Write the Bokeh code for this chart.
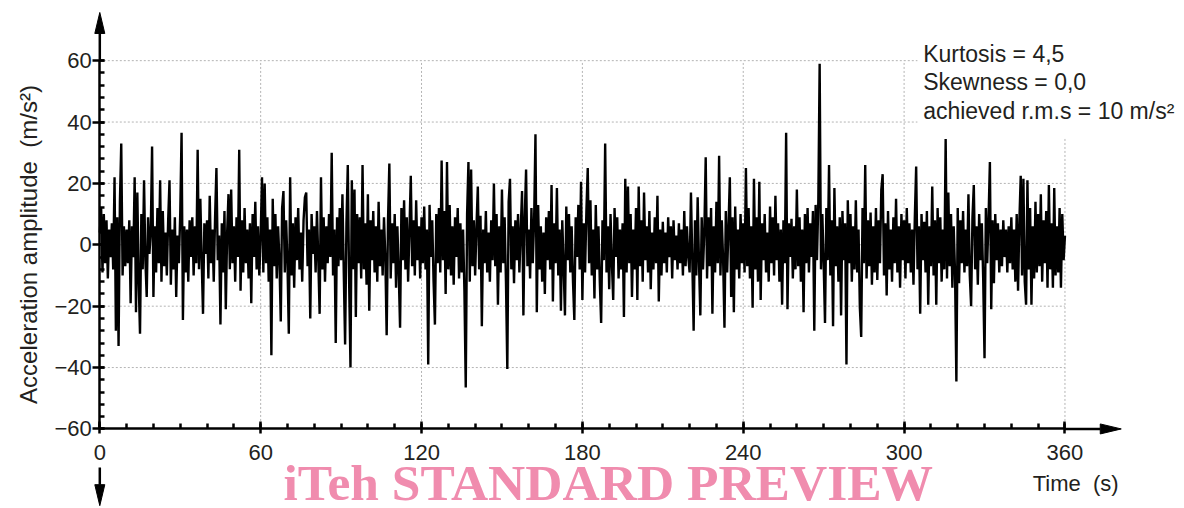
import numpy as np
from bokeh.plotting import figure
from bokeh.models import Range1d, FixedTicker, Label
from bokeh.embed import file_html
from bokeh.resources import INLINE

# ---------------- data ----------------
time_step_s = 0.5
acceleration = [
    4, 12, -9, 10, -6, 8, -11, 5, -4, 7, -8, 22, -28, 9, -33, 14, 33, -10, 6, -7,
    5, -6, 8, -19, 6, -4, 22, -22, 17, -12, -29, 10, -8, 21, -5, -17, 9, -3, 4, 32,
    -17, 6, -9, 12, -6, 21, -12, 11, -7, 4, -10, 8, 21, -13, 5, -8, 9, -17, 3, -6,
    10, 36.5, -24.5, 6, -9, 5, -12, 8, -4, 9, -10, 6, -6, 31, -8, 15, -5, -22.5, 7, -3,
    8, -11, 16, -6, 5, -12, 9, 25, -5, 3, -26, 7, -9, 11, -21, 4, 16.5, -8, 18, -6,
    6, -12, 9, -4, 31, -15, 8, -9, 12, -6, 5, -11, 7, -19, 10, -4, 14, -8, 6, -10,
    3, 22, -9, 20, -6, 9, -12, 5, -36, 15, -7, 10, -11, 6, -5, -25, 12, 17.5, -9, 8,
    -6, -29, 22, -10, 7, -14, 9, -5, 12, -8, 4, -12, 8, 15.5, 17, -7, 5, -24, 10, -3,
    6, -9, 11, -5, -22.5, 22, -8, 9, -12, 6, -6, 10, -4, 30, -10, 5, -32, 9, -7, 12,
    -5, 16.5, -9, -32.5, 7, 26, -12, -40, 21, -8, 18, -23.5, 10, -6, 9, -11, 26, -8, 7, -13,
    16.5, -21.5, 8, -5, 11, -9, 6, -12, 14, -7, 5, -10, 9, -4, -29.5, 8, 26.5, -11, 7, -6,
    10, -14, 6, -9, -27, 12, -5, 14.5, -8, 9, -12, 5, 22.5, -7, 8, -10, 14.5, -5, 6, -11,
    9, -6, 12.5, -8, 5, -39, 13, -4, 8, -12, -26, 10, -6, 12, -9, 27.5, -5, 11, -16, 27,
    -8, 13, -10, 6, -13, 9, -4, 12, -11, 7, -9, 5, -15, -46.5, 10, 27, -12, 24.5, -7, 8,
    -10, 6, 19, -8, 9.5, -26.5, 5, -6, 11, -9, 4, -12, 8, -5, 20, -7, 10, -19.5, 6, -9,
    18, -6, 9, -12, -40.5, 14, 21.5, -8, 6, -12.5, 8, -5, 10, -9, 5, 17.5, -23, 9, 24.5, -7,
    5, -11, 12, -6, 8, 36, -22, 13, -8, 6, -12, 4, -16, 9, -5, 11, -8, 19.5, -18.5, 7,
    -6, 18.5, -10, 5, -21.5, 8, -7, -23, 12.5, -5, 10, -9, 6, -12, -24.5, 9, -4, 13, -8, 20.5,
    -18, 7, -9, 11, 25, -6, 14.5, -10, 5, -17.5, 13, -8, 6, -12, -25.5, 8, -5, 33, -9, 6,
    -14.5, 10, -6, -18, 12, -4, 9, -11, 5, -8, 7, -23.5, 21.5, -9, 19, -6, 10, -17, 5, -8,
    12, -18, 19, -7, 8, -12, 17, -5, 6, -9, 11, -14.5, 4, -8, 9, -6, 16, -18.5, 5, -10,
    7.5, -6, 4, -9, 9, -4, 6, -11, 8, -5, 3, -8, 7, -6, 5, -10, 11, -7, 6, -4,
    -9, 17, -5, -28, 8, -10, 15.5, -6, -23, 9, -8, 5, 28.5, -11, 9, -7, 12, -22.5, 6, -9,
    14, -6, 29, -10, 8, -5, -27, 11, -9, 6, 22, -17, 9, -22, 12.5, -8, 5, -11, 10, -6,
    7, -9, 25, -7, 12, -11, 6, -20.5, 21.5, -8, 9, -12, 20.5, -18, 7, -5, 10, -9, 4, -12,
    12.5, -6, 9, -10, 16, -5, 7, -12, 5, -19.5, 8, -6, 36.5, -21, 7, -4, 8.5, -11, 6, -8,
    18, -7, 9, -12, 5, -22, 10, -6, 12, -9, 7, -4, 11, -28, 13, -5, 14, 59, -8, 10,
    -6, -25.5, 12, -5, 26, -10, 8, -26.5, 18.5, -7, 6, -12, 9, -23, 11, -5, 7, -39, 14.5, -6,
    10, -12, 6, -8, 14.5, -9, 5, -20.5, -30, 12, -6, 26, -11, 8, -7, 10.5, -13, 6, -9, 12,
    -11.5, 8, -6, 18, 23, -10, 7, -16.5, 11, -8, 5, -12, 9, -6, 15, -9, 6, -14, 10, -5,
    8, -11, 12, -6, 7, -9, 5, -13, 9, 25.5, -8, 6, -22.5, 10, -5, 7.5, -9, 11, -19.5, 6,
    -7, 19, -10, 8, -19.5, 12, -6, 9, -12, 5, -8, 34.5, -11, 17, -7, 10, -14, 6, -9, -44.5,
    12, -12.5, 8, -6, 11, -9, 5, -7, 16.5, -10, -20, 9, 19.5, -8, 6, -13, 10, -5, 7, -11,
    -37, 12, -6, 9, 27, -21, 8, -12.5, 10, -5, 7, -9, 5, -7, 8, -4, 5, -9, 6, -6,
    9, -8, 5, -12, 10, -15, 8, 22.5, -10, 21.5, -12, -19.5, 21, -8, 12, -19.5, 6, -11, 14, -9,
    10, -7, 16.5, -12, 8, -6, 11, -14, 19.5, -8, 7, -14, 18.5, -10, 6, -9, 12, -14, 10, -5,
    3,
]
time_s = [i * time_step_s for i in range(len(acceleration))]

x_major_ticks = [0, 60, 120, 180, 240, 300, 360]
x_minor_ticks = list(range(0, 361, 10))
y_major_ticks = [-60, -40, -20, 0, 20, 40, 60]
y_minor_ticks = list(range(-60, 61, 4))
x_tick_labels = {0: "0", 60: "60", 120: "120", 180: "180", 240: "240", 300: "300", 360: "360"}
y_tick_labels = {-60: "\u221260", -40: "\u221240", -20: "\u221220", 0: "0", 20: "20", 40: "40", 60: "60"}

stats_lines = ["Kurtosis = 4,5", "Skewness = 0,0", "achieved r.m.s = 10 m/s\u00b2"]
x_label = "Time\u00a0\u00a0(s)"
y_label = "Acceleration amplitude\u00a0\u00a0(m/s\u00b2)"
watermark = "iTeh STANDARD PREVIEW"

# ---------------- layout / style ----------------
W, H = 1184, 508
X0_PX, Y0_PX = 99.3, 244.3     # pixel position of t=0 and a=0
PX_X = 2.681                   # px per second
PX_Y = 3.069                   # px per m/s^2
X_START, X_END = -X0_PX / PX_X, (W - X0_PX) / PX_X
Y_START, Y_END = -(H - Y0_PX) / PX_Y, Y0_PX / PX_Y

FONT = "Liberation Sans"
FS = "22px"
FS_TXT = "23px"
FS_YLAB = "24px"
TXT = "#231f20"
GRID = "#b4b4b4"

p = figure(width=W, height=H, output_backend="svg", toolbar_location=None,
           x_range=Range1d(X_START, X_END), y_range=Range1d(Y_START, Y_END),
           min_border=0, min_border_left=0, min_border_right=0, min_border_top=0,
           min_border_bottom=0)
p.outline_line_color = None
p.xgrid.grid_line_color = None
p.ygrid.grid_line_color = None
p.background_fill_color = "white"
p.border_fill_color = "white"

# axes, fixed inside the frame
xa = p.xaxis[0]
xa.fixed_location = y_major_ticks[0]
xa.ticker = FixedTicker(ticks=x_major_ticks, minor_ticks=x_minor_ticks)
xa.major_label_overrides = x_tick_labels
xa.bounds = (x_major_ticks[0], x_major_ticks[-1])
ya = p.yaxis[0]
ya.fixed_location = x_major_ticks[0]
ya.ticker = FixedTicker(ticks=y_major_ticks, minor_ticks=y_minor_ticks)
ya.major_label_overrides = y_tick_labels
ya.bounds = (y_major_ticks[0], y_major_ticks[-1])
for ax in (xa, ya):
    ax.axis_line_width = 2.5
    ax.axis_line_color = "black"
    ax.major_tick_line_width = 2.5
    ax.minor_tick_line_width = 2.5
    ax.major_tick_line_color = "black"
    ax.minor_tick_line_color = "black"
    ax.minor_tick_in = 5
    ax.minor_tick_out = 0
    ax.major_label_text_font = FONT
    ax.major_label_text_font_size = FS
    ax.major_label_text_color = TXT
xa.major_tick_in = 7
xa.major_tick_out = 5
xa.major_label_standoff = 11
ya.major_tick_in = 5
ya.major_tick_out = 7
ya.major_label_standoff = 1
ya.axis_label = y_label
ya.axis_label_text_font = FONT
ya.axis_label_text_font_size = FS_YLAB
ya.axis_label_text_font_style = "normal"
ya.axis_label_text_color = TXT
ya.axis_label_standoff = 9

# dotted grid lines, limited to the data area
vx = x_major_ticks[1:]
p.segment(x0=vx, x1=vx, y0=[y_major_ticks[0]] * len(vx), y1=[y_major_ticks[-1]] * len(vx),
          line_color=GRID, line_width=1, line_dash="2 2")
hy = y_major_ticks[1:]
p.segment(x0=[x_major_ticks[0]] * len(hy), x1=[x_major_ticks[-1]] * len(hy), y0=hy, y1=hy,
          line_color=GRID, line_width=1, line_dash="2 2")

# white box behind the statistics text
BOX_LEFT, BOX_BOTTOM = 305, 35
p.quad(left=[BOX_LEFT], right=[X_END], bottom=[BOX_BOTTOM], top=[Y_END],
       fill_color="white", line_color=None)

# signal
p.line(time_s, acceleration, line_color="black", line_width=2.4)

# axis arrows
HEAD_LEN, HEAD_HALF = 21, 5
hlx, hhx = HEAD_LEN / PX_X, HEAD_HALF / PX_X
hly, hhy = HEAD_LEN / PX_Y, HEAD_HALF / PX_Y
UP_TIP = 75.7
RIGHT_TIP = 381
DOWN_START, DOWN_TIP = -72.6, -85.0
p.segment(x0=[0, 360, 0], y0=[60, -60, DOWN_START],
          x1=[0, RIGHT_TIP - hlx, 0], y1=[UP_TIP - hly, -60, DOWN_TIP + hly],
          line_color="black", line_width=2.5)
p.patches(xs=[[0, -hhx, hhx], [RIGHT_TIP, RIGHT_TIP - hlx, RIGHT_TIP - hlx], [0, -hhx, hhx]],
          ys=[[UP_TIP, UP_TIP - hly, UP_TIP - hly], [-60, -60 + hhy, -60 - hhy],
              [DOWN_TIP, DOWN_TIP + hly, DOWN_TIP + hly]],
          fill_color="black", line_color="black", line_width=1)

# statistics text
STATS_X = 307.1
STATS_Y = [62.3, 52.9, 43.6]
for txt, yy in zip(stats_lines, STATS_Y):
    p.add_layout(Label(x=STATS_X, y=yy, text=txt, text_font=FONT, text_font_size=FS_TXT,
                       text_color=TXT, text_baseline="alphabetic", text_align="left"))

# x axis title
p.add_layout(Label(x=380, y=-77.8, text=x_label, text_font=FONT, text_font_size=FS,
                   text_color=TXT, text_baseline="middle", text_align="right"))

# watermark
p.add_layout(Label(x=68.5, y=-77.6, text=watermark, text_font="Liberation Serif",
                   text_font_size="51.5px", text_font_style="bold", text_color="#f08cae",
                   text_baseline="alphabetic", text_align="left"))

open("out.html", "w").write(file_html(p, INLINE))
